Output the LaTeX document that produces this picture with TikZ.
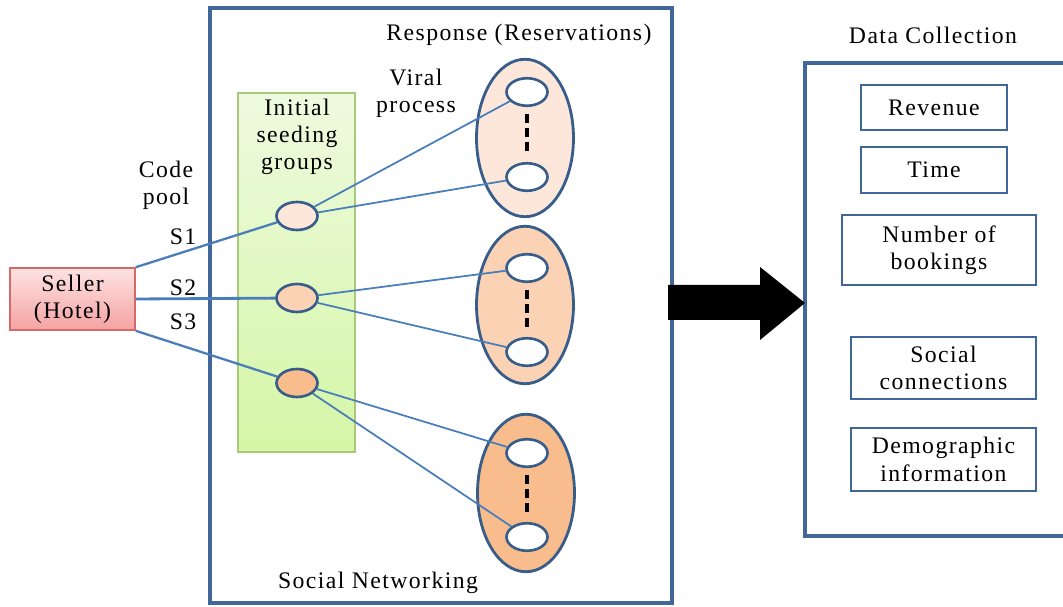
\documentclass[tikz,border=0pt]{standalone}
\usepackage{fontspec}
\setmainfont{Liberation Serif}[LetterSpace=6]
\usepackage{tikz}
\usetikzlibrary{shapes.geometric,positioning}
\definecolor{frameblue}{HTML}{41669A}
\definecolor{linkblue}{HTML}{4A7EBB}
\definecolor{ringblue}{HTML}{385D8A}
\definecolor{seedA}{HTML}{FDE7DA}
\definecolor{seedB}{HTML}{FBD3B4}
\definecolor{seedC}{HTML}{F9BC8C}
\definecolor{sellertop}{HTML}{FDE2E2}
\definecolor{sellerbot}{HTML}{F5A3A3}
\definecolor{sellerline}{HTML}{D36A6A}
\definecolor{greentop}{HTML}{EEFADF}
\definecolor{greenbot}{HTML}{D5F6A6}
\definecolor{greenline}{HTML}{A9C97A}

\tikzset{
  lbl/.style={font=\fontsize{13.5}{15.5}\selectfont, align=center, inner sep=0pt},
  seed/.style={ellipse, draw=ringblue, line width=1.5pt, minimum width=0.82cm, minimum height=0.56cm},
  member/.style={ellipse, draw=ringblue, line width=1.5pt, fill=white, minimum width=0.82cm, minimum height=0.55cm},
  cluster/.style={ellipse, draw=ringblue, line width=1.6pt, minimum width=1.94cm, minimum height=3.15cm},
  datbox/.style={rectangle, draw=frameblue, line width=1.5pt, lbl},
  link/.style={draw=linkblue, line width=1pt},
  dots/.style={line width=2.5pt, dash pattern=on 5pt off 3pt}
}

\begin{document}
\begin{tikzpicture}[x=0.02cm, y=-0.02cm]
        \useasboundingbox (0,0) rectangle (1063,607);

        % panels
        \draw[frameblue, line width=2.2pt] (210,8) rectangle (672,603);
        \draw[frameblue, line width=2.2pt] (1063,63) -- (805,63) -- (805,536) -- (1063,536);

        \node[lbl] (resp) at (519,35) {Response (Reservations)};
        \node[lbl] (sn) at (378,583) {Social Networking};
        \node[lbl] (dc) at (933,35) {Data Collection};

        % seeding column
        \node[rectangle, draw=greenline, line width=0.9pt, top color=greentop, bottom color=greenbot,
              minimum width=2.34cm, minimum height=7.18cm] (col) at (296.5,272.5) {};
        \node[lbl] (isg) at (297,137) {Initial\\seeding\\groups};

        \node[seed, fill=seedA] (g1) at (297,216) {};
        \node[seed, fill=seedB] (g2) at (297,298) {};
        \node[seed, fill=seedC] (g3) at (297,383) {};

        % seller
        \node[rectangle, draw=sellerline, line width=0.9pt, top color=sellertop, bottom color=sellerbot,
              minimum width=2.5cm, minimum height=1.24cm, lbl] (seller) at (72.5,299) {Seller\\(Hotel)};

        \node[lbl] (pool) at (166,185) {Code\\pool};
        \node[lbl] (s1) at (183,237) {S1};
        \node[lbl] (s2) at (183,288) {S2};
        \node[lbl] (s3) at (183,322) {S3};
        \node[lbl] (viral) at (416,93) {Viral\\process};

        % response clusters
        \node[cluster, fill=seedA] (c1) at (525,138) {};
        \node[cluster, fill=seedB] (c2) at (525,305) {};
        \node[cluster, fill=seedC] (c3) at (526,493) {};

        \node[member] (c1a) at (527,92) {};
        \node[member] (c1b) at (527,177) {};
        \node[member] (c2a) at (527,268) {};
        \node[member] (c2b) at (527,352) {};
        \node[member] (c3a) at (527,453) {};
        \node[member] (c3b) at (527,537) {};

        \draw[dots, shorten <=4pt, shorten >=4pt] (c1a) -- (c1b);
        \draw[dots, shorten <=4pt, shorten >=4pt] (c2a) -- (c2b);
        \draw[dots, shorten <=4pt, shorten >=4pt] (c3a) -- (c3b);

        \draw[link, line width=1.3pt] (seller.north east) -- (g1);
        \draw[link, line width=1.6pt] (seller.east) -- (g2);
        \draw[link, line width=1.3pt] (seller.south east) -- (g3);

        \draw[link] (g1) -- (c1a);
        \draw[link] (g1) -- (c1b);
        \draw[link] (g2) -- (c2a);
        \draw[link] (g2) -- (c2b);
        \draw[link] (g3) -- (c3a);
        \draw[link] (g3) -- (c3b);

        % big arrow
        \fill[black] (668,285) -- (760,285) -- (760,267) -- (805,303)
                     -- (760,340) -- (760,320) -- (668,320) -- cycle;

        % collected data
        \node[datbox, minimum width=2.92cm, minimum height=0.9cm] (rev) at (934,107.5) {Revenue};
        \node[datbox, minimum width=2.92cm, minimum height=0.92cm] (time) at (934,170) {Time};
        \node[datbox, minimum width=3.88cm, minimum height=1.4cm] (nb) at (939,250) {Number of\\bookings};
        \node[datbox, minimum width=3.7cm, minimum height=1.24cm] (soc) at (943.5,368) {Social\\connections};
        \node[datbox, minimum width=3.7cm, minimum height=1.26cm] (demo) at (943.5,459.5) {Demographic\\information};
\end{tikzpicture}
\end{document}
